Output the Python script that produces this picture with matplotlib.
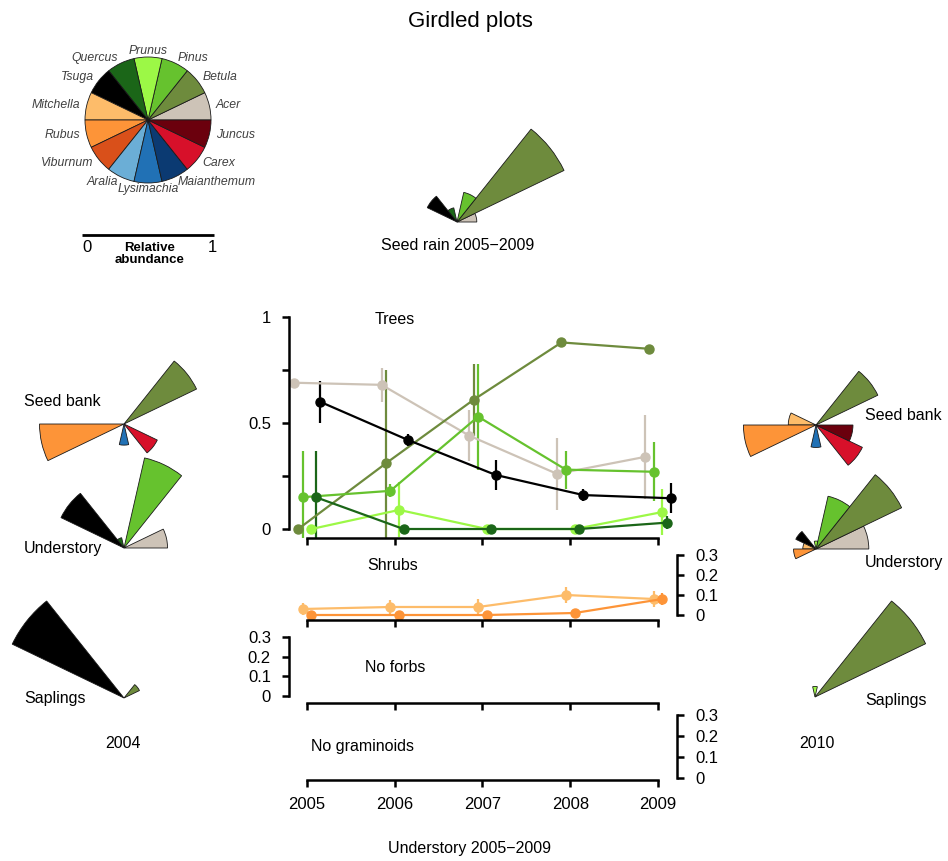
import numpy as np
import matplotlib
matplotlib.use("Agg")
import matplotlib.pyplot as plt
from matplotlib.patches import Wedge

plt.rcParams['font.family'] = ['Liberation Sans', 'DejaVu Sans']

W, H = 948, 861

# species, in the order they go round the rose (counter-clockwise from east)
species = ["Acer", "Betula", "Pinus", "Prunus", "Quercus", "Tsuga", "Mitchella",
           "Rubus", "Viburnum", "Aralia", "Lysimachia", "Maianthemum", "Carex", "Juncus"]
colors = ["#cdc3b7", "#6e8b3d", "#66c22e", "#9cf846", "#1b6618", "#000000", "#fdbc6a",
          "#fd9438", "#d9501a", "#6baed6", "#2171b5", "#0b3a72", "#d7102a", "#6b000d"]

# relative abundance per species, same order as above
seed_rain = [0.15, 0.90, 0.23, 0, 0.11, 0.25, 0, 0, 0, 0, 0, 0, 0, 0]
bank_2004 = [0, 0.61, 0, 0, 0, 0, 0, 0.64, 0, 0, 0.16, 0, 0.28, 0]
under_2004 = [0.33, 0, 0.70, 0, 0.08, 0.53, 0, 0, 0, 0, 0, 0, 0, 0]
sapl_2004 = [0, 0.13, 0, 0, 0, 0.94, 0, 0, 0, 0, 0, 0, 0, 0]
bank_2010 = [0, 0.52, 0, 0, 0, 0, 0.21, 0.55, 0, 0, 0.17, 0, 0.39, 0.28]
under_2010 = [0.40, 0.72, 0.41, 0.06, 0, 0.17, 0.10, 0.17, 0, 0, 0, 0, 0, 0]
sapl_2010 = [0, 0.93, 0, 0.08, 0, 0, 0, 0, 0, 0, 0, 0, 0, 0]

# understory time series 2005-2009 (mean, +/- error)
years = [2005, 2006, 2007, 2008, 2009]
tree_species = ["Acer", "Betula", "Pinus", "Prunus", "Quercus", "Tsuga"]
tree_offsets = [-0.15, -0.10, -0.05, 0.05, 0.10, 0.15]
tree_means = [
    [0.69, 0.68, 0.44, 0.26, 0.34],
    [0.00, 0.31, 0.61, 0.88, 0.85],
    [0.15, 0.18, 0.53, 0.28, 0.27],
    [0.00, 0.09, 0.00, 0.00, 0.08],
    [0.15, 0.00, 0.00, 0.00, 0.03],
    [0.60, 0.42, 0.255, 0.16, 0.145],
]
tree_errs = [
    [0.01, 0.08, 0.12, 0.17, 0.20],
    [0.00, 0.44, 0.17, 0.00, 0.015],
    [0.22, 0.03, 0.25, 0.09, 0.14],
    [0.00, 0.13, 0.00, 0.00, 0.11],
    [0.22, 0.00, 0.00, 0.00, 0.03],
    [0.10, 0.03, 0.07, 0.03, 0.07],
]
shrub_species = ["Mitchella", "Rubus"]
shrub_offsets = [-0.05, 0.05]
shrub_means = [
    [0.03, 0.04, 0.04, 0.10, 0.08],
    [0.00, 0.00, 0.00, 0.01, 0.08],
]
shrub_errs = [
    [0.03, 0.035, 0.04, 0.04, 0.04],
    [0.00, 0.00, 0.00, 0.00, 0.03],
]

ROSE_SCALE = 132   # px for relative abundance of 1
PIE_R = 63
STEP = 360.0 / len(species)
LABEL_FS = 11.5
TICK_FS = 12


def draw_rose(ax, cx, cy, values, radius_scale=ROSE_SCALE):
    # y axis of the overlay is inverted, so angles are negated
    for i, (v, c) in enumerate(zip(values, colors)):
        if v <= 0:
            continue
        ax.add_patch(Wedge((cx, cy), v * radius_scale, -(i + 1) * STEP, -i * STEP,
                           facecolor=c, edgecolor="#1a1a1a", lw=0.6))


def px_axes(fig, left, top, right, bottom):
    return fig.add_axes([left / W, 1 - bottom / H, (right - left) / W, (bottom - top) / H])


def year_at(px):
    # 2005 sits at x=307, 2009 at x=658
    return 2005 + (px - 307) / 87.75


def make_panel(fig, top, bottom, zero_px, unit_px, side, ymax, yticks, ylabels, xlabels=False):
    left, right = 289, 677
    ax = px_axes(fig, left, top, right, bottom)
    ax.set_facecolor("none")
    ax.set_xlim(year_at(left), year_at(right))
    ax.set_ylim((zero_px - bottom) / unit_px, (zero_px - top) / unit_px)
    for s in ax.spines.values():
        s.set_visible(False)
        s.set_linewidth(1.8)
    ax.spines["bottom"].set_visible(True)
    ax.spines["bottom"].set_bounds(2005, 2009)
    ax.spines[side].set_visible(True)
    ax.spines[side].set_bounds(0, ymax)
    ax.set_xticks(years)
    if xlabels:
        ax.set_xticklabels([str(y) for y in years])
    else:
        ax.set_xticklabels([])
    ax.tick_params(axis="x", direction="out", length=5, width=1.8, labelsize=TICK_FS, pad=7)
    ax.yaxis.set_ticks_position(side)
    ax.set_yticks(yticks)
    ax.set_yticklabels(ylabels)
    ax.tick_params(axis="y", direction="out", length=5, width=1.8, labelsize=TICK_FS, pad=8)
    return ax


def plot_series(ax, names, offsets, means, errs):
    for name, off, m, e in zip(names, offsets, means, errs):
        c = colors[species.index(name)]
        x = [y + off for y in years]
        ax.errorbar(x, m, yerr=e, color=c, lw=1.6, marker="o", ms=6.5,
                    elinewidth=1.6, capsize=0)


fig = plt.figure(figsize=(W / 100, H / 100), dpi=100)

ov = fig.add_axes([0, 0, 1, 1])
ov.set_xlim(0, W)
ov.set_ylim(H, 0)
ov.axis("off")

ov.text(470, 22, "Girdled plots", fontsize=16, ha="center", va="center")

# legend pie
pcx, pcy = 148, 120
draw_rose(ov, pcx, pcy, [1] * len(species), radius_scale=PIE_R)
for i, name in enumerate(species):
    a = np.deg2rad((i + 0.5) * STEP)
    lx = pcx + 1.1 * PIE_R * np.cos(a)
    ly = pcy - 1.1 * PIE_R * np.sin(a)
    if np.cos(a) > 0.1:
        ha = "left"
    elif np.cos(a) < -0.1:
        ha = "right"
    else:
        ha = "center"
    ov.text(lx, ly, name, fontsize=8.8, style="italic", color="#404040", ha=ha, va="center")

# scale bar
ov.plot([82, 82 + ROSE_SCALE], [235, 235], color="black", lw=2, solid_capstyle="butt")
ov.text(87, 247, "0", fontsize=12, ha="center", va="center")
ov.text(82 + ROSE_SCALE - 2, 247, "1", fontsize=12, ha="center", va="center")
ov.text(150, 254, "Relative\nabundance", fontsize=9.5, fontweight="bold",
        ha="center", va="center", linespacing=1.05)

# seed rain
draw_rose(ov, 457, 222, seed_rain)
ov.text(458, 245, "Seed rain 2005\u22122009", fontsize=LABEL_FS, ha="center", va="center")

# 2004 roses
draw_rose(ov, 124, 424, bank_2004)
draw_rose(ov, 124, 548, under_2004)
draw_rose(ov, 124, 698, sapl_2004)
ov.text(24, 401, "Seed bank", fontsize=LABEL_FS, ha="left", va="center")
ov.text(24, 549, "Understory", fontsize=LABEL_FS, ha="left", va="center")
ov.text(24, 699, "Saplings", fontsize=LABEL_FS, ha="left", va="center")
ov.text(123, 744, "2004", fontsize=LABEL_FS, ha="center", va="center")

# 2010 roses
draw_rose(ov, 816, 425, bank_2010)
draw_rose(ov, 816, 549, under_2010)
draw_rose(ov, 815, 697, sapl_2010)
ov.text(865, 415, "Seed bank", fontsize=LABEL_FS, ha="left", va="center")
ov.text(865, 563, "Understory", fontsize=LABEL_FS, ha="left", va="center")
ov.text(865, 700, "Saplings", fontsize=LABEL_FS, ha="left", va="center")
ov.text(817, 744, "2010", fontsize=LABEL_FS, ha="center", va="center")

# understory panels
trees = make_panel(fig, 305, 538, 529, 212, "left", 1,
                   [0, 0.25, 0.5, 0.75, 1], ["0", "", "0.5", "", "1"])
plot_series(trees, tree_species, tree_offsets, tree_means, tree_errs)

small_ticks = [0, 0.1, 0.2, 0.3]
small_labels = ["0", "0.1", "0.2", "0.3"]
shrubs = make_panel(fig, 545, 620, 615, 200, "right", 0.3, small_ticks, small_labels)
plot_series(shrubs, shrub_species, shrub_offsets, shrub_means, shrub_errs)

forbs = make_panel(fig, 628, 703, 696, 197, "left", 0.3, small_ticks, small_labels)
grams = make_panel(fig, 706, 780, 778, 210, "right", 0.3, small_ticks, small_labels, xlabels=True)

ov.text(395, 320, "Trees", fontsize=LABEL_FS, ha="center", va="center")
ov.text(393, 565, "Shrubs", fontsize=LABEL_FS, ha="center", va="center")
ov.text(395, 667, "No forbs", fontsize=LABEL_FS, ha="center", va="center")
ov.text(363, 746, "No graminoids", fontsize=LABEL_FS, ha="center", va="center")
ov.text(470, 848, "Understory 2005\u22122009", fontsize=LABEL_FS, ha="center", va="center")

fig.savefig("out.png", dpi=100)
plt.close(fig)
